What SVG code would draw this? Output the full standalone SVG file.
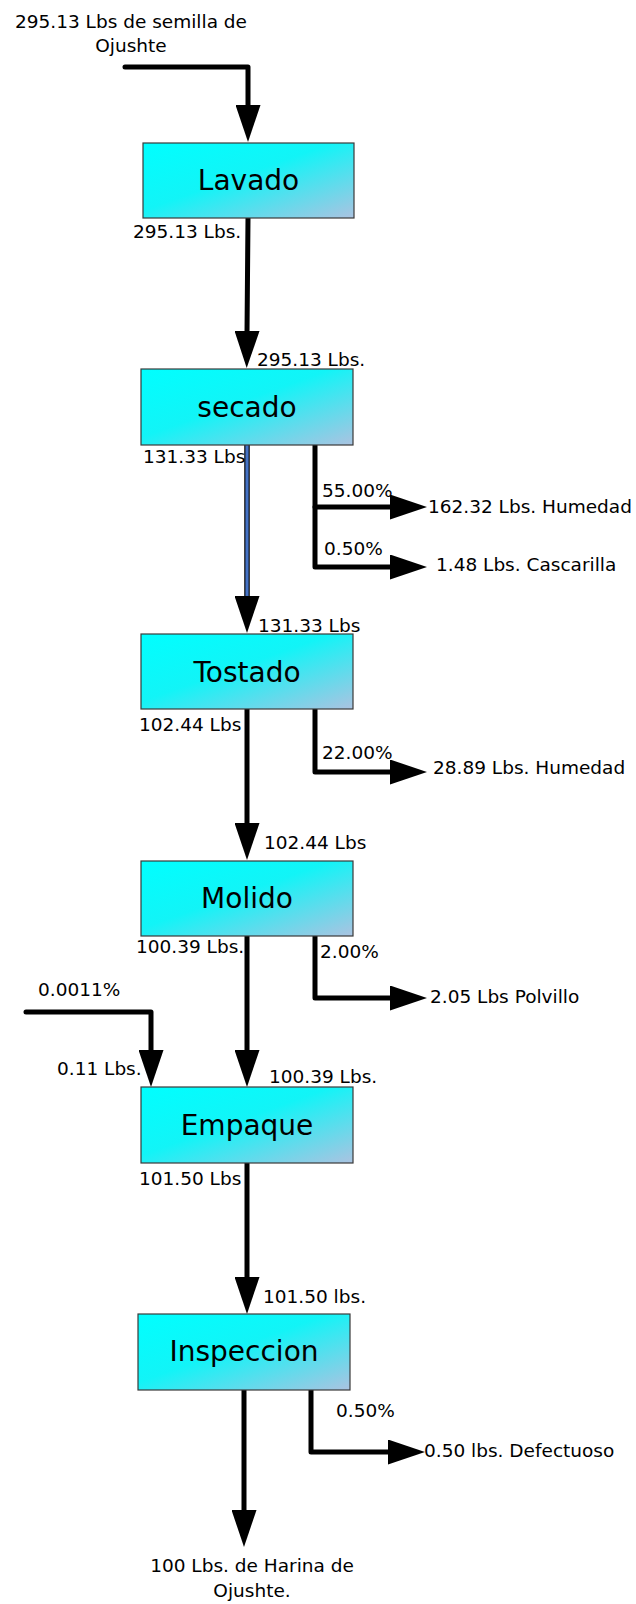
<svg xmlns="http://www.w3.org/2000/svg" width="636" height="1604" viewBox="0 0 636 1604">
  <style>
    .box { fill: url(#boxFill); stroke: #3a3a3a; stroke-width: 1.2; }
    .title { font-family: "DejaVu Sans", Verdana, sans-serif; font-size: 28px; fill: #000; text-anchor: middle; }
    .lbl { font-family: "DejaVu Sans", Verdana, sans-serif; font-size: 18.5px; fill: #000; }
    .mid { text-anchor: middle; }
    .flow { fill: none; stroke: #000; stroke-width: 5; stroke-linecap: round; stroke-linejoin: round; marker-end: url(#head); }
    .outline { fill: none; stroke: #000; stroke-width: 5.5; stroke-linecap: round; }
    .blue { fill: none; stroke: #4472c4; stroke-width: 3.2; marker-end: url(#head); }
  </style>
  <defs>
    <linearGradient id="boxFill" x1="0" y1="0" x2="1" y2="1">
      <stop offset="0" stop-color="#00ffff"/>
      <stop offset="0.45" stop-color="#12f4f7"/>
      <stop offset="1" stop-color="#abc3e1"/>
    </linearGradient>
    <marker id="head" viewBox="0 0 37 25" refX="2" refY="12.5" markerWidth="37" markerHeight="25" markerUnits="userSpaceOnUse" orient="auto">
      <path d="M0,0 L37,12.5 L0,25 Z" fill="#000"/>
    </marker>
  </defs>

  <rect width="636" height="1604" fill="#fff"/>

  <!-- flow lines -->
  <g id="connectors">
    <path class="flow" d="M125,67 H248 V107"/>
    <path class="flow" d="M248,218 L247,333"/>
    <path class="outline" d="M247,445 V598"/>
    <path class="blue" d="M247,445 V598"/>
    <path class="flow" d="M315,445 V567 H392"/>
    <path class="flow" d="M315,507 H392"/>
    <path class="flow" d="M247,709 V825"/>
    <path class="flow" d="M315,709 V772 H392"/>
    <path class="flow" d="M247,936 V1052"/>
    <path class="flow" d="M315,936 V998 H392"/>
    <path class="flow" d="M26,1012 H151 V1052"/>
    <path class="flow" d="M247,1163 V1279"/>
    <path class="flow" d="M244,1390 V1512"/>
    <path class="flow" d="M311,1390 V1452 H390"/>
  </g>

  <!-- process steps -->
  <g id="lavado">
    <rect class="box" x="143" y="143" width="211" height="75"/>
    <text class="title" x="248.5" y="190">Lavado</text>
  </g>
  <g id="secado">
    <rect class="box" x="141" y="369" width="212" height="76"/>
    <text class="title" x="247" y="417">secado</text>
  </g>
  <g id="tostado">
    <rect class="box" x="141" y="634" width="212" height="75"/>
    <text class="title" x="247" y="682">Tostado</text>
  </g>
  <g id="molido">
    <rect class="box" x="141" y="861" width="212" height="75"/>
    <text class="title" x="247" y="908">Molido</text>
  </g>
  <g id="empaque">
    <rect class="box" x="141" y="1087" width="212" height="76"/>
    <text class="title" x="247" y="1135">Empaque</text>
  </g>
  <g id="inspeccion">
    <rect class="box" x="138" y="1314" width="212" height="76"/>
    <text class="title" x="244" y="1361">Inspeccion</text>
  </g>

  <!-- quantities and percentages -->
  <g id="labels">
    <text class="lbl mid" x="131" y="28">295.13 Lbs de semilla de</text>
    <text class="lbl mid" x="131" y="52">Ojushte</text>
    <text class="lbl" x="133" y="238">295.13 Lbs.</text>
    <text class="lbl" x="257" y="366">295.13 Lbs.</text>
    <text class="lbl" x="143" y="463">131.33 Lbs</text>
    <text class="lbl" x="322" y="497">55.00%</text>
    <text class="lbl" x="428" y="513">162.32 Lbs. Humedad</text>
    <text class="lbl" x="324" y="555">0.50%</text>
    <text class="lbl" x="436" y="571">1.48 Lbs. Cascarilla</text>
    <text class="lbl" x="258" y="632">131.33 Lbs</text>
    <text class="lbl" x="139" y="731">102.44 Lbs</text>
    <text class="lbl" x="322" y="759">22.00%</text>
    <text class="lbl" x="433" y="774">28.89 Lbs. Humedad</text>
    <text class="lbl" x="264" y="849">102.44 Lbs</text>
    <text class="lbl" x="136" y="953">100.39 Lbs.</text>
    <text class="lbl" x="320" y="958">2.00%</text>
    <text class="lbl" x="430" y="1003">2.05 Lbs Polvillo</text>
    <text class="lbl" x="38" y="996">0.0011%</text>
    <text class="lbl" x="57" y="1075">0.11 Lbs.</text>
    <text class="lbl" x="269" y="1083">100.39 Lbs.</text>
    <text class="lbl" x="139" y="1185">101.50 Lbs</text>
    <text class="lbl" x="263" y="1303">101.50 lbs.</text>
    <text class="lbl" x="336" y="1417">0.50%</text>
    <text class="lbl" x="424" y="1457">0.50 lbs. Defectuoso</text>
    <text class="lbl mid" x="252" y="1572">100 Lbs. de Harina de</text>
    <text class="lbl mid" x="252" y="1597">Ojushte.</text>
  </g>
</svg>
